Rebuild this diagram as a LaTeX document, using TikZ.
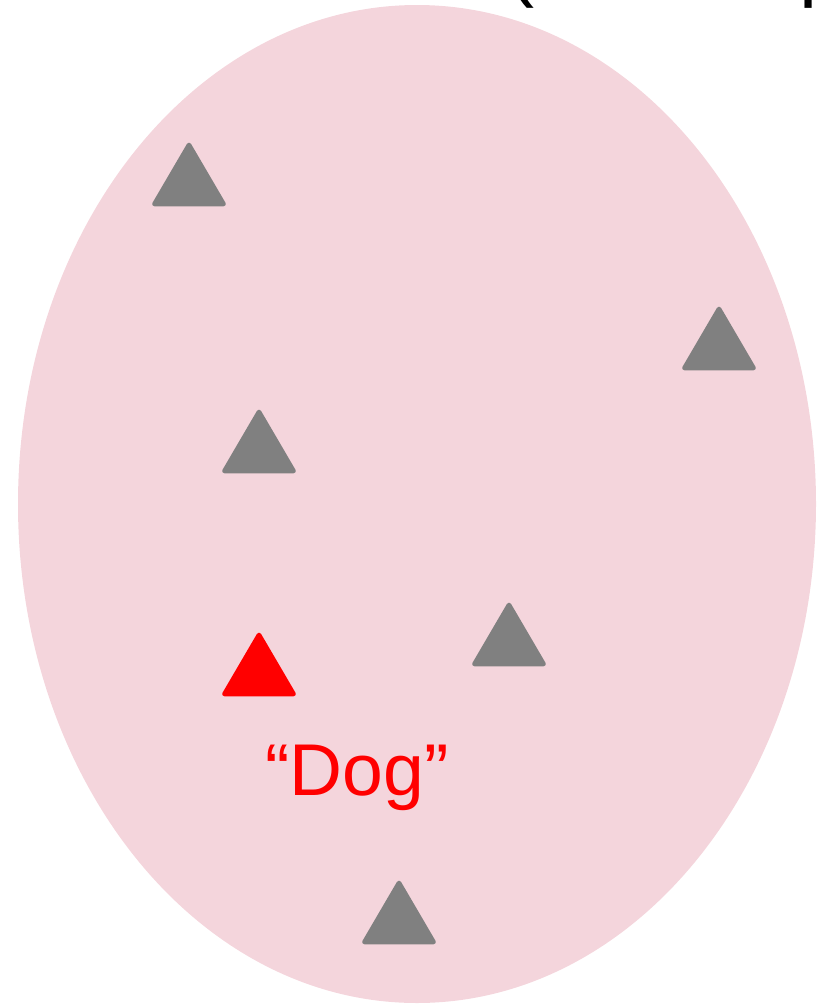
\documentclass[tikz,border=0pt]{standalone}
\usepackage{fontspec}
\setmainfont{Liberation Sans}
\definecolor{blobpink}{HTML}{F4D5DC}
\definecolor{tgray}{HTML}{808080}
\definecolor{tred}{HTML}{FF0000}
\tikzset{
  tri/.style={fill=#1, draw=#1, line width=3.5pt, line join=round},
  lbl/.style={font=\fontsize{55}{64}\selectfont, text=tred, inner sep=0pt, anchor=base},
  ttl/.style={font=\fontsize{61}{70}\selectfont, text=black, inner sep=0pt, anchor=base}
}
\begin{document}
\begin{tikzpicture}[x=0.75pt,y=-0.75pt]
\useasboundingbox (0,0) rectangle (819,1004);
\begin{scope}
\clip (0,0) rectangle (819,1004);
\fill[blobpink] (417,504) ellipse [x radius=399, y radius=499];
\node[ttl] (open) at (521,-9) {(};
\node[ttl] (p) at (822,-9) {p};
\end{scope}
\newcommand{\mytri}[3]{\draw[tri=#3] (#1,#2+3) -- (#1-34.5,#2+62) -- (#1+34.5,#2+62) -- cycle;}
\mytri{189}{142}{tgray}
\mytri{719}{306}{tgray}
\mytri{259}{409}{tgray}
\mytri{509}{602}{tgray}
\mytri{259}{632}{tred}
\mytri{399}{880}{tgray}
\node[lbl] (dog) at (357,795) {“Dog”};
\end{tikzpicture}
\end{document}
